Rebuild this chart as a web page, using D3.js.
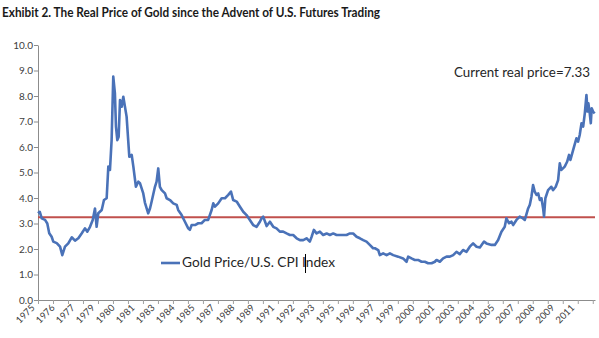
<!DOCTYPE html>
<html><head><meta charset="utf-8">
<script src="https://cdn.jsdelivr.net/npm/d3@7"></script>
<style>
html,body{margin:0;padding:0;background:#fff;}
svg{display:block;font-family:Lato,"Open Sans",sans-serif;}
</style></head>
<body>
<svg id="chart" width="599" height="338"></svg>
<script>
const title = "Exhibit 2. The Real Price of Gold since the Advent of U.S. Futures Trading";
const seriesName = "Gold Price/U.S. CPI Index";
const annotation = "Current real price=7.33";
const meanLevel = 3.25;
const yTicks = [0,1,2,3,4,5,6,7,8,9,10];
const xLabels = ["1975","1976","1977","1979","1980","1981","1983","1984","1985","1987","1988","1989","1991","1992","1993","1995","1996","1997","1999","2000","2001","2003","2004","2005","2007","2008","2009","2011"];
const years = [1975.00,1975.12,1975.25,1975.47,1975.62,1975.75,1975.91,1976.02,1976.25,1976.47,1976.62,1976.80,1977.02,1977.25,1977.47,1977.69,1977.91,1978.13,1978.29,1978.47,1978.65,1978.80,1978.91,1979.02,1979.25,1979.40,1979.58,1979.69,1979.80,1979.91,1980.02,1980.13,1980.20,1980.29,1980.38,1980.47,1980.58,1980.69,1980.80,1980.91,1981.09,1981.25,1981.36,1981.53,1981.69,1981.80,1982.02,1982.13,1982.35,1982.47,1982.58,1982.80,1982.91,1983.02,1983.13,1983.25,1983.47,1983.58,1983.80,1984.02,1984.25,1984.35,1984.58,1984.80,1985.02,1985.13,1985.25,1985.47,1985.69,1985.91,1986.13,1986.35,1986.58,1986.69,1986.80,1987.02,1987.25,1987.47,1987.69,1987.87,1988.02,1988.25,1988.47,1988.69,1988.91,1989.13,1989.35,1989.58,1989.80,1989.91,1990.02,1990.25,1990.47,1990.69,1990.91,1991.13,1991.35,1991.58,1991.80,1992.02,1992.25,1992.47,1992.69,1992.91,1993.13,1993.25,1993.40,1993.58,1993.80,1994.02,1994.25,1994.47,1994.69,1994.91,1995.13,1995.35,1995.58,1995.80,1996.02,1996.25,1996.47,1996.69,1996.91,1997.13,1997.35,1997.47,1997.69,1997.80,1998.02,1998.25,1998.47,1998.69,1999.02,1999.35,1999.58,1999.69,1999.91,2000.13,2000.35,2000.58,2000.80,2001.02,2001.25,2001.47,2001.58,2001.80,2002.02,2002.25,2002.47,2002.69,2002.91,2003.13,2003.35,2003.58,2003.80,2004.02,2004.25,2004.47,2004.75,2004.91,2005.25,2005.47,2005.69,2005.91,2006.13,2006.24,2006.42,2006.58,2006.69,2006.91,2007.13,2007.35,2007.47,2007.69,2007.80,2007.91,2008.02,2008.13,2008.25,2008.36,2008.47,2008.58,2008.69,2008.75,2008.84,2009.02,2009.24,2009.35,2009.53,2009.69,2009.80,2009.91,2010.13,2010.29,2010.42,2010.51,2010.69,2010.91,2011.02,2011.13,2011.25,2011.36,2011.47,2011.58,2011.65,2011.71,2011.80,2011.87,2011.93,2012.02,2012.13];
const realPrice = [3.40,3.46,3.20,3.14,3.00,2.62,2.48,2.29,2.23,2.09,1.76,2.09,2.22,2.46,2.33,2.42,2.61,2.81,2.68,2.87,3.14,3.59,2.87,3.40,3.53,3.92,3.99,5.23,5.10,6.27,8.76,8.10,6.80,6.27,6.40,7.84,7.58,7.97,7.58,7.19,5.62,5.69,5.23,4.44,4.64,4.58,4.18,3.82,3.40,3.59,3.86,4.44,4.64,5.16,4.44,4.31,4.18,3.99,3.92,3.79,3.73,3.53,3.33,3.07,2.81,2.75,2.94,2.94,3.01,3.01,3.14,3.14,3.53,3.79,3.66,3.79,3.99,3.99,4.12,4.25,3.92,3.86,3.66,3.46,3.33,3.14,2.94,2.87,3.07,3.20,3.27,2.90,3.07,2.87,2.81,2.68,2.68,2.61,2.55,2.55,2.42,2.35,2.35,2.42,2.29,2.48,2.75,2.61,2.68,2.55,2.61,2.55,2.61,2.55,2.55,2.55,2.55,2.61,2.61,2.48,2.42,2.35,2.29,2.16,2.03,2.03,1.96,1.76,1.83,1.76,1.83,1.76,1.70,1.63,1.50,1.70,1.63,1.57,1.57,1.50,1.50,1.44,1.44,1.50,1.57,1.50,1.63,1.70,1.70,1.76,1.89,1.80,1.96,1.89,2.09,2.22,2.09,2.06,2.29,2.22,2.16,2.16,2.35,2.68,2.87,3.20,3.01,3.07,2.94,3.14,3.27,3.20,3.14,3.59,3.73,4.05,4.51,4.25,4.12,4.18,3.92,3.99,3.59,3.27,3.99,4.31,4.44,4.31,4.44,4.70,5.36,5.10,5.23,5.42,5.69,5.49,5.88,6.34,6.21,6.47,6.93,6.80,7.32,8.04,7.39,7.71,7.32,6.93,7.52,7.39,7.32];

const svg = d3.select("#chart");
const x = d3.scaleLinear().domain([1975, 2012.15]).range([38, 595]);
const y = d3.scaleLinear().domain([0, 10]).range([300, 45]);

// title
svg.append("text").attr("x", 2).attr("y", 17)
  .attr("font-size", 13).attr("font-weight", "bold").attr("fill", "#1a1a1a")
  .attr("textLength", 378).attr("lengthAdjust", "spacingAndGlyphs")
  .text(title);

// y axis
const yAxis = svg.append("g").attr("transform", `translate(${x.range()[0]},0)`)
  .call(d3.axisLeft(y).tickValues(yTicks).tickFormat(d3.format(".1f")).tickSize(4).tickSizeOuter(0));
yAxis.select(".domain").attr("stroke", "#8c8c8c");
yAxis.selectAll(".tick line").attr("stroke", "#8c8c8c");
yAxis.selectAll(".tick text").attr("font-size", 10).attr("fill", "#404040")
  .attr("font-family", "Lato, 'Open Sans', sans-serif").attr("x", -5);

// x axis ticks (yearly)
const yearTicks = d3.range(1975, 2013);
const xAxis = svg.append("g").attr("transform", `translate(0,${y(0)})`)
  .call(d3.axisBottom(x).tickValues(yearTicks).tickFormat("").tickSize(4).tickSizeOuter(0));
xAxis.select(".domain").attr("stroke", "#8c8c8c");
xAxis.selectAll(".tick line").attr("stroke", "#a0a0a0");

// x labels every 16 months
svg.append("g").selectAll("text").data(xLabels).join("text")
  .attr("transform", (d, i) => `translate(${x(1975 + i * 16 / 12) - 5},${y(0) + 6}) rotate(-45)`)
  .attr("text-anchor", "end").attr("dy", "0.35em")
  .attr("font-size", 9.5).attr("fill", "#404040")
  .text(d => d);

// mean line
svg.append("line")
  .attr("x1", x(1975)).attr("x2", x(2012.15))
  .attr("y1", y(meanLevel)).attr("y2", y(meanLevel))
  .attr("stroke", "#c0504d").attr("stroke-width", 2);

// series line
const line = d3.line().x((d, i) => x(years[i])).y(d => y(d)).curve(d3.curveLinear);
svg.append("path").datum(realPrice)
  .attr("d", line).attr("fill", "none")
  .attr("stroke", "#4a72b8").attr("stroke-width", 2.6).attr("stroke-linejoin", "round");

// legend
const lg = svg.append("g").attr("transform", "translate(161,263)");
lg.append("line").attr("x1", 0).attr("x2", 19).attr("y1", 0).attr("y2", 0)
  .attr("stroke", "#4a72b8").attr("stroke-width", 2.6);
lg.append("text").attr("x", 21).attr("y", 0).attr("dy", "0.35em")
  .attr("font-size", 12.5).attr("fill", "#262626")
  .attr("textLength", 153).attr("lengthAdjust", "spacingAndGlyphs")
  .text(seriesName);
// text cursor artifact
svg.append("line").attr("x1", 305.5).attr("x2", 305.5).attr("y1", 254).attr("y2", 273)
  .attr("stroke", "#000").attr("stroke-width", 1);

// annotation
svg.append("text").attr("x", 454).attr("y", 77)
  .attr("font-size", 12.5).attr("fill", "#262626")
  .attr("textLength", 136).attr("lengthAdjust", "spacingAndGlyphs")
  .text(annotation);
</script>
</body></html>
